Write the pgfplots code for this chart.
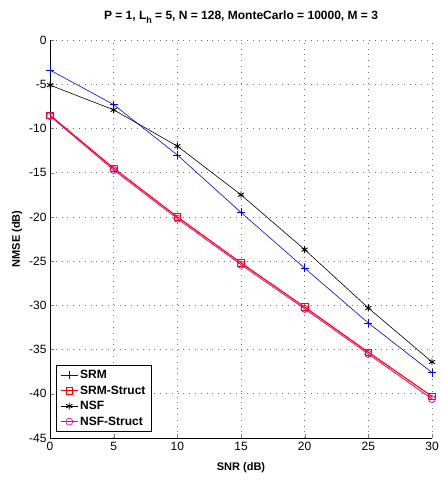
\documentclass[border=0pt]{standalone}
\usepackage{pgfplots}
\pgfplotsset{compat=1.18}
\usetikzlibrary{calc}
\usepackage{fontspec}
\setmainfont{Liberation Sans}
\begin{document}
\begin{tikzpicture}
\begin{axis}[
 scale only axis,width=382pt,height=398pt,
 xmin=0,xmax=30,ymin=-45,ymax=0,
 xtick={0,5,...,30},ytick={-45,-40,...,0},
 axis lines*=left,tick align=inside,major tick length=4pt,
 axis line style={line width=0.6pt},
 /pgf/number format/assume math mode=true,
 tick label style={font=\fontsize{12}{13}\selectfont},
 xticklabel style={yshift=-1pt},
 xlabel={\textbf{SNR (dB)}},ylabel={\textbf{NMSE (dB)}},
 label style={font=\fontsize{11}{12}\selectfont},
 xlabel style={at={(axis description cs:0.5,0)},anchor=center,yshift=-30pt},
 ylabel style={at={(axis description cs:0,0.5)},anchor=center,yshift=33pt},
 title={\textbf{P = 1, L\raisebox{-3.5pt}{\fontsize{9}{9}\selectfont h} = 5, N = 128, MonteCarlo = 10000, M = 3}},
 title style={font=\fontsize{12}{13}\selectfont,at={(axis description cs:0.5,1)},anchor=center,yshift=17pt},
 grid=major,grid style={black!55,dash pattern=on 0.8pt off 5pt,line width=0.6pt},
 legend style={at={(0,0)},anchor=south west,xshift=6pt,yshift=6pt,
  font=\bfseries\fontsize{12}{13}\selectfont,draw=black,line width=0.9pt,
  row sep=1.6pt,inner xsep=4pt,inner ysep=3pt},
 legend cell align=left,
 legend image post style={line width=0.6pt},
 every axis plot/.append style={line width=0.6pt},
]
\addplot[blue,mark=+,mark size=4pt] coordinates {(0,-3.4) (5,-7.3) (10,-13.0) (15,-19.5) (20,-25.8) (25,-32.0) (30,-37.6)};
\addplot[red,mark=square,mark size=3.3pt,line width=1.1pt,mark options={line width=0.7pt}] coordinates {(0,-8.5) (5,-14.5) (10,-20.0) (15,-25.2) (20,-30.2) (25,-35.3) (30,-40.3)};
\addplot[black,mark=asterisk,mark size=3.5pt,mark options={line width=0.9pt}] coordinates {(0,-5.1) (5,-7.9) (10,-12.0) (15,-17.5) (20,-23.7) (25,-30.3) (30,-36.4)};
\addplot[magenta,mark=o,mark size=3.5pt,line width=0.8pt] coordinates {(0,-8.6) (5,-14.7) (10,-20.2) (15,-25.4) (20,-30.4) (25,-35.5) (30,-40.6)};
\legend{SRM,SRM-Struct,NSF,NSF-Struct}
\end{axis}
\pgfresetboundingbox
\path ($(current axis.south west)+(-50pt,-43pt)$) rectangle ($(current axis.north east)+(9pt,40pt)$);
\end{tikzpicture}
\end{document}
